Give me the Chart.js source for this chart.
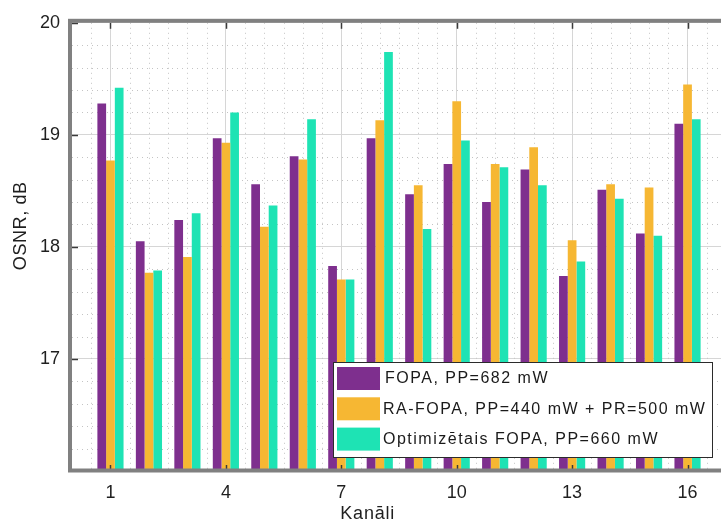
<!DOCTYPE html>
<html>
<head>
<meta charset="utf-8">
<title>OSNR pa kanāliem</title>
<script src="https://cdn.jsdelivr.net/npm/chart.js@4/dist/chart.umd.min.js"></script>
<style>
  html, body { margin: 0; padding: 0; background: #fff; overflow: hidden; }
  #wrap { width: 740px; height: 521px; }
</style>
</head>
<body>
<div id="wrap"><canvas id="c" width="740" height="521"></canvas></div>
<script>
// Channel numbers
const channels = [1, 2, 3, 4, 5, 6, 7, 8, 9, 10, 11, 12, 13, 14, 15, 16];

// OSNR per channel, dB
const fopa    = [19.28, 18.05, 18.24, 18.97, 18.56, 18.81, 17.83, 18.97, 18.47, 18.74, 18.40, 18.69, 17.74, 18.51, 18.12, 19.10];
const raFopa  = [18.77, 17.77, 17.91, 18.93, 18.18, 18.78, 17.71, 19.13, 18.55, 19.30, 18.74, 18.89, 18.06, 18.56, 18.53, 19.45];
const optFopa = [19.42, 17.79, 18.30, 19.20, 18.37, 19.14, 17.71, 19.74, 18.16, 18.95, 18.71, 18.55, 17.87, 18.43, 18.10, 19.14];

// Labelled ticks
const xTickLabels = [1, 4, 7, 10, 13, 16];
const yTickLabels = [17, 18, 19, 20];

const seriesNames = [
  'FOPA, PP=682 mW',
  'RA-FOPA, PP=440 mW + PR=500 mW',
  'Optimizētais FOPA, PP=660 mW'
];
const seriesColors = ['#7E2F8E', '#F6B733', '#1EE3B4'];

const FONT = '"Liberation Sans", Arial, sans-serif';

function points(values) {
  return channels.map((c, i) => ({ x: c, y: values[i] }));
}

// Dotted minor grid, drawn behind the bars
const minorGrid = {
  id: 'minorGrid',
  beforeDatasetsDraw(chart) {
    const { ctx, chartArea: a, scales: { x, y } } = chart;
    ctx.save();
    ctx.strokeStyle = '#c4c4c4';
    ctx.lineWidth = 1;
    ctx.setLineDash([1, 4]);
    for (let v = 0.5; v < x.max; v += 0.5) {
      if (xTickLabels.includes(v)) continue;
      const px = Math.round(x.getPixelForValue(v)) + 0.5;
      ctx.beginPath(); ctx.moveTo(px, a.top); ctx.lineTo(px, a.bottom); ctx.stroke();
    }
    for (let k = 1; k < 20; k++) {
      const v = y.min + k * 0.2;
      if (Math.abs(v - Math.round(v)) < 1e-6) continue;
      const py = Math.round(y.getPixelForValue(v)) + 0.5;
      ctx.beginPath(); ctx.moveTo(a.left, py); ctx.lineTo(a.right, py); ctx.stroke();
    }
    ctx.restore();
  }
};

// Axes box, inward tick marks, axis titles and the legend box
const frame = {
  id: 'frame',
  afterDatasetsDraw(chart) {
    const { ctx, chartArea: a, scales: { x, y } } = chart;
    ctx.save();
    // inward tick marks
    ctx.strokeStyle = '#3a3a3a';
    ctx.lineWidth = 1.5;
    xTickLabels.forEach(v => {
      const px = Math.round(x.getPixelForValue(v)) + 0.5;
      ctx.beginPath(); ctx.moveTo(px, a.bottom); ctx.lineTo(px, a.bottom - 6); ctx.stroke();
      ctx.beginPath(); ctx.moveTo(px, a.top); ctx.lineTo(px, a.top + 6); ctx.stroke();
    });
    yTickLabels.forEach(v => {
      const py = Math.round(y.getPixelForValue(v)) + 0.5;
      ctx.beginPath(); ctx.moveTo(a.left, py); ctx.lineTo(a.left + 6, py); ctx.stroke();
    });
    // box
    ctx.strokeStyle = '#808080';
    ctx.lineWidth = 4;
    ctx.strokeRect(a.left - 2, a.top - 2, a.right - a.left + 4, a.bottom - a.top + 1.5);

    // axis titles
    ctx.fillStyle = '#1f1f1f';
    ctx.font = '18px ' + FONT;
    ctx.letterSpacing = '0.8px';
    ctx.textAlign = 'left';
    ctx.textBaseline = 'alphabetic';
    ctx.fillText('Kanāli', x.getPixelForValue(7) - 1, 519);
    ctx.save();
    ctx.translate(26, a.top + 203);
    ctx.rotate(-Math.PI / 2);
    ctx.textAlign = 'center';
    ctx.letterSpacing = '0.6px';
    ctx.fillText('OSNR, dB', 0, 0);
    ctx.restore();

    // legend
    const lx = 333, ly = a.bottom - 109, lw = 379, lh = 95;
    ctx.fillStyle = '#ffffff';
    ctx.fillRect(lx, ly, lw, lh);
    ctx.strokeStyle = '#2b2b2b';
    ctx.lineWidth = 1;
    ctx.strokeRect(lx + 0.5, ly + 0.5, lw, lh);
    ctx.font = '16px ' + FONT;
    ctx.letterSpacing = '1.5px';
    ctx.textBaseline = 'middle';
    ctx.textAlign = 'left';
    chart.data.datasets.forEach((ds, i) => {
      const ry = ly + 5 + i * 30.3;
      ctx.fillStyle = ds.backgroundColor;
      ctx.fillRect(lx + 4, ry, 43, 23);
      ctx.fillStyle = '#1a1a1a';
      ctx.fillText(ds.label, lx + (i === 0 ? 52 : 50), ry + 12);
    });
    ctx.restore();
  }
};

new Chart(document.getElementById('c'), {
  type: 'bar',
  data: {
    datasets: [
      { label: seriesNames[0], data: points(fopa),    backgroundColor: seriesColors[0] },
      { label: seriesNames[1], data: points(raFopa),  backgroundColor: seriesColors[1] },
      { label: seriesNames[2], data: points(optFopa), backgroundColor: seriesColors[2] }
    ]
  },
  options: {
    responsive: false,
    animation: false,
    events: [],
    layout: { padding: { top: 15, right: 14, left: 0, bottom: 0 } },
    datasets: { bar: { categoryPercentage: 0.68, barPercentage: 1.0, borderWidth: 0 } },
    plugins: { legend: { display: false }, tooltip: { enabled: false } },
    scales: {
      x: {
        type: 'linear',
        offset: false,
        min: 0,
        max: 17,
        afterBuildTicks(scale) { scale.ticks = xTickLabels.map(v => ({ value: v })); },
        afterFit(scale) { scale.height = 50; },
        ticks: { font: { family: FONT, size: 18 }, color: '#1f1f1f', padding: 11, maxRotation: 0, autoSkip: false },
        grid: { color: '#d6d6d6', lineWidth: 1, drawTicks: false, offset: false },
        border: { display: false }
      },
      y: {
        min: 16,
        max: 20,
        afterBuildTicks(scale) { scale.ticks = yTickLabels.map(v => ({ value: v })); },
        afterFit(scale) { scale.width = 72; },
        ticks: { font: { family: FONT, size: 18 }, color: '#1f1f1f', padding: 12 },
        grid: { color: '#d6d6d6', lineWidth: 1, drawTicks: false },
        border: { display: false }
      }
    }
  },
  plugins: [minorGrid, frame]
});
</script>
</body>
</html>
